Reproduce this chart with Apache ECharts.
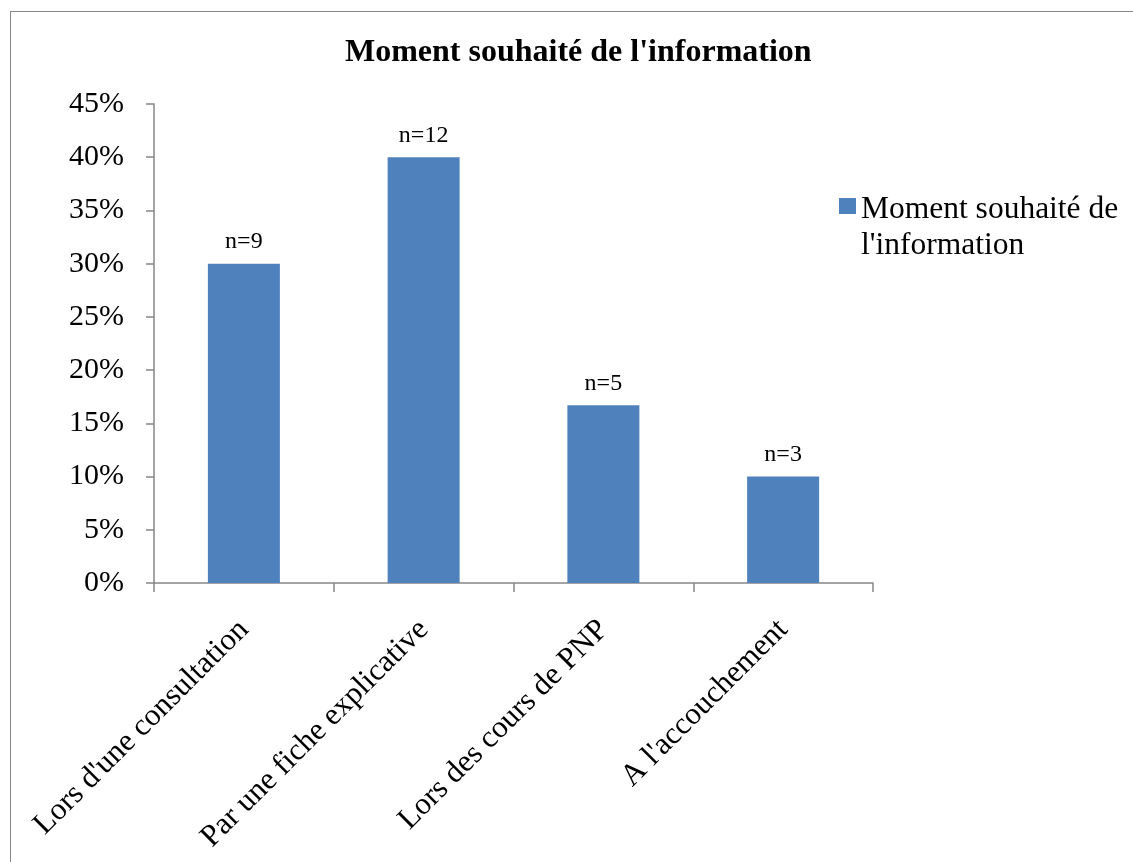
<!DOCTYPE html>
<html>
<head>
<meta charset="utf-8">
<title>Moment souhaité de l'information</title>
<script src="https://cdn.jsdelivr.net/npm/echarts@6/dist/echarts.min.js"></script>
<style>
  html, body { margin: 0; padding: 0; background: #fff; overflow: hidden; }
  #wrap { position: relative; width: 1133px; height: 862px; }
  #frame {
    position: absolute; left: 10px; top: 11px; right: -5px; bottom: -5px;
    border: 1px solid #898989;
  }
  #chart { position: absolute; left: 0; top: 0; width: 1133px; height: 862px; }
</style>
</head>
<body>
<div id="wrap">
  <div id="frame"></div>
  <div id="chart"></div>
</div>
<script>
// données
var categories = [
  "Lors d'une consultation",
  "Par une fiche explicative",
  "Lors des cours de PNP",
  "A l'accouchement"
];
var values = [0.30, 0.40, 0.167, 0.10];
var counts = [9, 12, 5, 3];
var seriesName = "Moment souhaité de l'information";

var font = "'Liberation Serif', 'Times New Roman', serif";

var myChart = echarts.init(document.getElementById("chart"));

// carré de légende aligné sur la 1re ligne (la boîte fait 17x72)
var legendIcon = "path://M0,0L0,0M17,72L17,72M0,6L17,6L17,22L0,22Z";

var option = {
  backgroundColor: "transparent",
  animation: false,
  title: {
    text: "Moment souhaité de l'information",
    left: 340,
    top: 32,
    textStyle: {
      fontFamily: font,
      fontWeight: "bold",
      fontSize: 32,
      color: "#000"
    }
  },
  legend: {
    data: [{ name: seriesName, icon: legendIcon }],
    left: 839,
    top: 192,
    padding: 0,
    itemWidth: 17,
    itemHeight: 72,
    itemStyle: { borderWidth: 0 },
    formatter: function () {
      return "Moment souhaité de\nl'information";
    },
    textStyle: {
      fontFamily: font,
      fontSize: 31.5,
      lineHeight: 36,
      color: "#000"
    }
  },
  grid: {
    left: 154,
    right: 260,
    top: 104,
    bottom: 279,
    containLabel: false,
    outerBoundsMode: "none"
  },
  xAxis: {
    type: "category",
    data: categories,
    boundaryGap: true,
    axisLine: { lineStyle: { color: "#868686", width: 1.5 } },
    axisTick: {
      show: true,
      interval: 0,
      length: 9,
      lineStyle: { color: "#868686", width: 1.5 }
    },
    axisLabel: {
      interval: 0,
      rotate: 45,
      margin: 42,
      fontFamily: font,
      fontSize: 31,
      color: "#000"
    }
  },
  yAxis: {
    type: "value",
    min: 0,
    max: 0.45,
    interval: 0.05,
    splitLine: { show: false },
    axisLine: { show: true, lineStyle: { color: "#868686", width: 1.5 } },
    axisTick: {
      show: true,
      length: 8,
      lineStyle: { color: "#868686", width: 1.5 }
    },
    axisLabel: {
      margin: 30,
      fontFamily: font,
      fontSize: 30,
      color: "#000",
      formatter: function (v) {
        return Math.round(v * 100) + "%";
      }
    }
  },
  series: [
    {
      name: seriesName,
      type: "bar",
      barWidth: 72,
      data: values,
      itemStyle: { color: "#4F81BD" },
      label: {
        show: true,
        position: "top",
        distance: 10,
        fontFamily: font,
        fontSize: 24,
        color: "#000",
        formatter: function (p) {
          return "n=" + counts[p.dataIndex];
        }
      }
    }
  ]
};

myChart.setOption(option);
</script>
</body>
</html>
